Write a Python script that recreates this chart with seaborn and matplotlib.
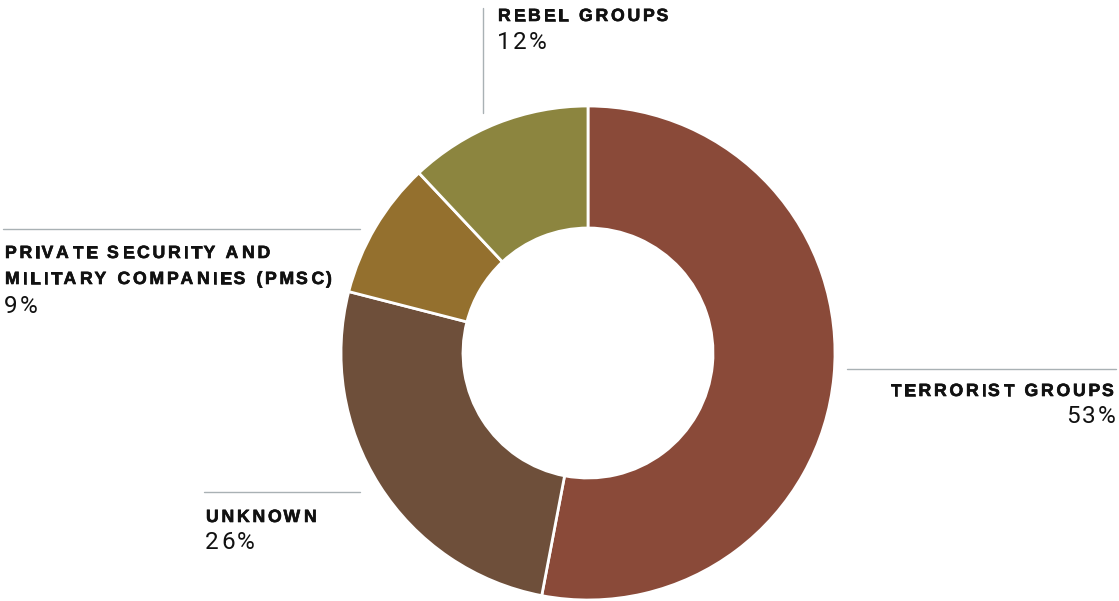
import matplotlib
matplotlib.use("Agg")
import matplotlib.pyplot as plt
import matplotlib.patheffects as pe
from matplotlib.font_manager import FontProperties, findfont, get_font
import seaborn as sns

# data
categories = ["TERRORIST GROUPS", "UNKNOWN", "PRIVATE SECURITY AND\nMILITARY COMPANIES (PMSC)", "REBEL GROUPS"]
shares = [53, 26, 9, 12]
colors = ["#8a4a39", "#6e4f3a", "#94702e", "#8c853f"]

sns.set_theme(style="white")
plt.rcParams["font.family"] = ["Liberation Sans", "DejaVu Sans"]

W, H = 1119, 601
fig = plt.figure(figsize=(W / 100, H / 100), dpi=100)
ax = fig.add_axes([0, 0, 1, 1])

cx, cy, r_out, r_in = 588, H - 353, 247, 125
ax.pie(shares, colors=colors, startangle=90, counterclock=False,
       center=(cx, cy), radius=r_out,
       wedgeprops=dict(width=r_out - r_in, edgecolor="white", linewidth=2))
ax.set_xlim(0, W)
ax.set_ylim(0, H)
ax.set_aspect("equal")
ax.axis("off")


def Y(y):
    return H - y


LAB = FontProperties(family="Liberation Sans", weight="bold", size=12.7)
PCT = FontProperties(family="Roboto", weight="normal", size=17.5)


def spaced(x, y, s, fp, track, ha="left", color="#111111", stroke=0.0):
    # draw text letter by letter so it can be tracked out
    f = get_font(findfont(fp), hinting_factor=1)
    f.set_size(fp.get_size_in_points(), 100)
    metrics = []
    for ch in s:
        g = f.load_char(ord(ch))
        metrics.append((g.linearHoriAdvance / 65536, g.horiBearingX / 64))
    total = sum(a for a, _ in metrics) + track * (len(s) - 1)
    pen = x - total if ha == "right" else x
    effects = [pe.withStroke(linewidth=stroke, foreground=color)] if stroke else None
    for ch, (adv, bx) in zip(s, metrics):
        if ch != " ":
            ax.text(pen + bx, Y(y), ch, fontproperties=fp, color=color,
                    ha="left", va="baseline", path_effects=effects)
        pen += adv + track


line_c = "#a9b1b4"
tr_lab, tr_pct = 2.5, 2.2
sk = 0.45

# terrorist
ax.plot([847, 1116], [Y(369), Y(369)], color=line_c, lw=1)
spaced(1114, 396, categories[0], LAB, tr_lab, ha="right", stroke=sk)
spaced(1114, 423, f"{shares[0]}%", PCT, tr_pct, ha="right")

# unknown
ax.plot([204, 360], [Y(492), Y(492)], color=line_c, lw=1)
spaced(205, 522, categories[1], LAB, tr_lab, stroke=sk)
spaced(204, 549, f"{shares[1]}%", PCT, tr_pct)

# pmsc
ax.plot([3, 360], [Y(229), Y(229)], color=line_c, lw=1)
l1, l2 = categories[2].split("\n")
spaced(4, 258, l1, LAB, tr_lab, stroke=sk)
spaced(4, 284, l2, LAB, tr_lab, stroke=sk)
spaced(3, 313, f"{shares[2]}%", PCT, tr_pct)

# rebel
ax.plot([483, 483], [Y(8), Y(113)], color=line_c, lw=1)
spaced(497, 21, categories[3], LAB, tr_lab, stroke=sk)
spaced(496, 49, f"{shares[3]}%", PCT, tr_pct)

fig.savefig("out.png", dpi=100)
